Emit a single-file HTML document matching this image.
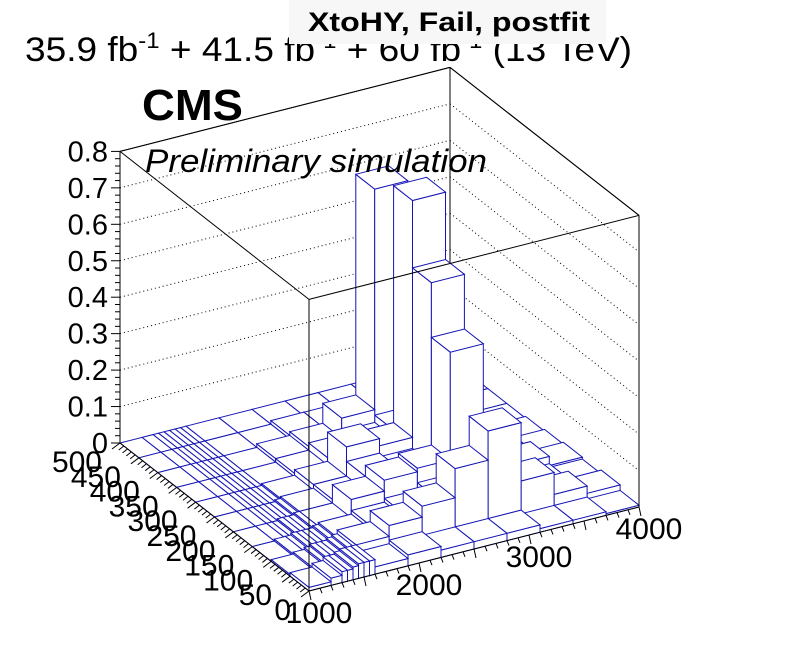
<!DOCTYPE html>
<html><head><meta charset="utf-8">
<style>
html,body{margin:0;padding:0;background:#fff;}
svg{display:block;font-family:"Liberation Sans",Arial,sans-serif;}
</style></head>
<body>
<svg id="chart" width="796" height="672" viewBox="0 0 796 672" xmlns="http://www.w3.org/2000/svg">
  <g id="back"></g>
  <g id="bars"></g>
  <g id="front"></g>
  <g id="labels"></g>
  <text x="25" y="61" font-size="34" textLength="607" lengthAdjust="spacingAndGlyphs">35.9 fb<tspan dy="-13" font-size="22">-1</tspan><tspan dy="13"> + 41.5 fb</tspan><tspan dy="-13" font-size="22">-1</tspan><tspan dy="13"> + 60 fb</tspan><tspan dy="-13" font-size="22">-1</tspan><tspan dy="13"> (13 TeV)</tspan></text>
  <rect x="289" y="0" width="317" height="44" fill="#f7f7f7"/>
  <text x="308" y="31" font-size="27" font-weight="bold" textLength="282" lengthAdjust="spacingAndGlyphs">XtoHY, Fail, postfit</text>
  <text x="142" y="120" font-size="44" font-weight="bold" textLength="101" lengthAdjust="spacingAndGlyphs">CMS</text>
  <text x="145" y="172" font-size="32" font-style="italic" textLength="342" lengthAdjust="spacingAndGlyphs">Preliminary simulation</text>
</svg>
<script>
const xEdges = [1000,1200,1300,1350,1400,1450,1500,1550,1600,1900,2200,2500,2800,3100,3400,3700,4000];
const yEdges = [0,50,100,150,200,250,300,350,400,450,500];
// bin contents: one array per x bin, values for y bins 0..9
const binContent = [
  [0.01,0.005,0,0,0,0,0,0,0,0],
  [0.02,0.01,0.005,0,0,0,0,0,0,0],
  [0.03,0.015,0.005,0,0,0,0,0,0,0],
  [0.03,0.02,0.01,0,0,0,0,0,0,0],
  [0.035,0.02,0.01,0.005,0,0,0,0,0,0],
  [0.04,0.02,0.01,0.005,0,0,0,0,0,0],
  [0.04,0.025,0.01,0.005,0,0,0,0,0,0],
  [0.04,0.03,0.015,0.01,0.005,0,0,0,0,0],
  [0.02,0.04,0.02,0.01,0.01,0.005,0,0,0,0],
  [0.03,0.07,0.03,0.06,0.02,0.02,0.01,0.01,0,0],
  [0.02,0.10,0.04,0.09,0.06,0.10,0.03,0.02,0.01,0],
  [0.02,0.18,0.06,0.10,0.05,0.08,0.04,0.075,0.01,0],
  [0.02,0.26,0.08,0.395,0.545,0.73,0.06,0.68,0.02,0],
  [0.01,0.10,0.05,0.08,0.06,0.05,0.03,0.02,0.01,0],
  [0.01,0.04,0.02,0.04,0.02,0.02,0.01,0,0,0],
  [0.005,0.02,0.01,0.015,0.01,0.005,0,0,0,0]
];
const zTicks = [0,0.1,0.2,0.3,0.4,0.5,0.6,0.7,0.8];
const zTickLabels = ["0","0.1","0.2","0.3","0.4","0.5","0.6","0.7","0.8"];
const yTicks = [0,50,100,150,200,250,300,350,400,450,500];
const yTickLabels = ["0","50","100","150","200","250","300","350","400","450","500"];
const xTicks = [1000,2000,3000,4000];
const xTickLabels = ["1000","2000","3000","4000"];

const NS = "http://www.w3.org/2000/svg";
const ZMAX = 0.8;
function P(x,y,z){
  const u=(x-1000)/3000, v=y/500, w=z/ZMAX;
  return [309+u*330-v*189, 591-u*84-v*148-w*291.6];
}
function mk(tag, attrs, parent){
  const e=document.createElementNS(NS,tag);
  for(const k in attrs) e.setAttribute(k,attrs[k]);
  parent.appendChild(e); return e;
}
function pts(a){return a.map(p=>p[0].toFixed(1)+","+p[1].toFixed(1)).join(" ");}
function line(g,a,b,st,dash){
  const l=mk("line",{x1:a[0],y1:a[1],x2:b[0],y2:b[1],stroke:st,"stroke-width":1},g);
  if(dash) l.setAttribute("stroke-dasharray",dash);
  return l;
}
const back=document.getElementById("back");
const bars=document.getElementById("bars");
const front=document.getElementById("front");
const labels=document.getElementById("labels");

let l;
l=line(back,P(1000,500,0),P(1000,500,ZMAX),"#000");


l=line(back,P(4000,500,0),P(4000,500,ZMAX),"#000");


zTicks.forEach((z,i)=>{
  if(z===0) return;
  const last = (i===zTicks.length-1);
  const g1=line(back,P(1000,500,z),P(4000,500,z),"#000",last?null:"1,3");
  
  
  const g2=line(back,P(4000,500,z),P(4000,0,z),"#000",last?null:"1,3");
  
  
});

const BLUE="#1515b5";
for(let i=xEdges.length-2;i>=0;i--){
  for(let j=yEdges.length-2;j>=0;j--){
    const h=binContent[i][j];
    const x0=xEdges[i],x1=xEdges[i+1],y0=yEdges[j],y1=yEdges[j+1];
    const g=mk("g",{},bars);
    
    
    const st={fill:"#fff",stroke:BLUE,"stroke-width":1,"stroke-linejoin":"miter"};
    if(h>0){
      mk("polygon",Object.assign({points:pts([P(x0,y0,0),P(x0,y1,0),P(x0,y1,h),P(x0,y0,h)])},st),g);
      mk("polygon",Object.assign({points:pts([P(x0,y0,0),P(x1,y0,0),P(x1,y0,h),P(x0,y0,h)])},st),g);
    }
    mk("polygon",Object.assign({points:pts([P(x0,y0,h),P(x1,y0,h),P(x1,y1,h),P(x0,y1,h)])},st),g);
  }
}

const fr=[
 [P(1000,0,0),P(1000,0,ZMAX)],[P(4000,0,0),P(4000,0,ZMAX)],
 [P(1000,0,0),P(4000,0,0)],[P(1000,0,0),P(1000,500,0)],
 [P(1000,500,ZMAX),P(1000,0,ZMAX)],[P(1000,0,ZMAX),P(4000,0,ZMAX)],
 [P(4000,0,ZMAX),P(4000,500,ZMAX)],[P(4000,500,ZMAX),P(1000,500,ZMAX)]
];
fr.forEach(s=>{
  const e=line(front,s[0],s[1],"#000");
  
  
});

for(let z=0; z<=0.8001; z+=0.02){
  const p=P(1000,500,z);
  const major=Math.abs(z*10-Math.round(z*10))<1e-6;
  const t=line(front,[p[0]-(major?9:5),p[1]],p,"#000");
  
  
}
zTicks.forEach((z,i)=>{
  const p=P(1000,500,z);
  const t=mk("text",{x:p[0]-12,y:p[1]+10,"font-size":29,"text-anchor":"end"},labels);
  
  
  t.textContent=zTickLabels[i];
});
for(let y=0;y<=500;y+=10){
  const p=P(1000,y,0);
  const major=(y%50===0);
  const t=line(front,p,[p[0]-(major?8:5),p[1]+(major?6:4)],"#000");
  
  
}
yTicks.forEach((y,i)=>{
  const p=P(1000,y,0);
  const t=mk("text",{x:p[0]-18,y:p[1]+29,"font-size":30,"text-anchor":"end"},labels);
  
  
  t.textContent=yTickLabels[i];
});
for(let x=1000;x<=4000;x+=100){
  const p=P(x,0,0);
  const major=(x%500===0);
  const t=line(front,p,[p[0]+2,p[1]+(major?9:5)],"#000");
  
  
}
xTicks.forEach((x,i)=>{
  const p=P(x,0,0);
  const t=mk("text",{x:p[0]+10,y:p[1]+32,"font-size":30,"text-anchor":"middle"},labels);
  
  
  t.textContent=xTickLabels[i];
});
</script>
</body></html>
